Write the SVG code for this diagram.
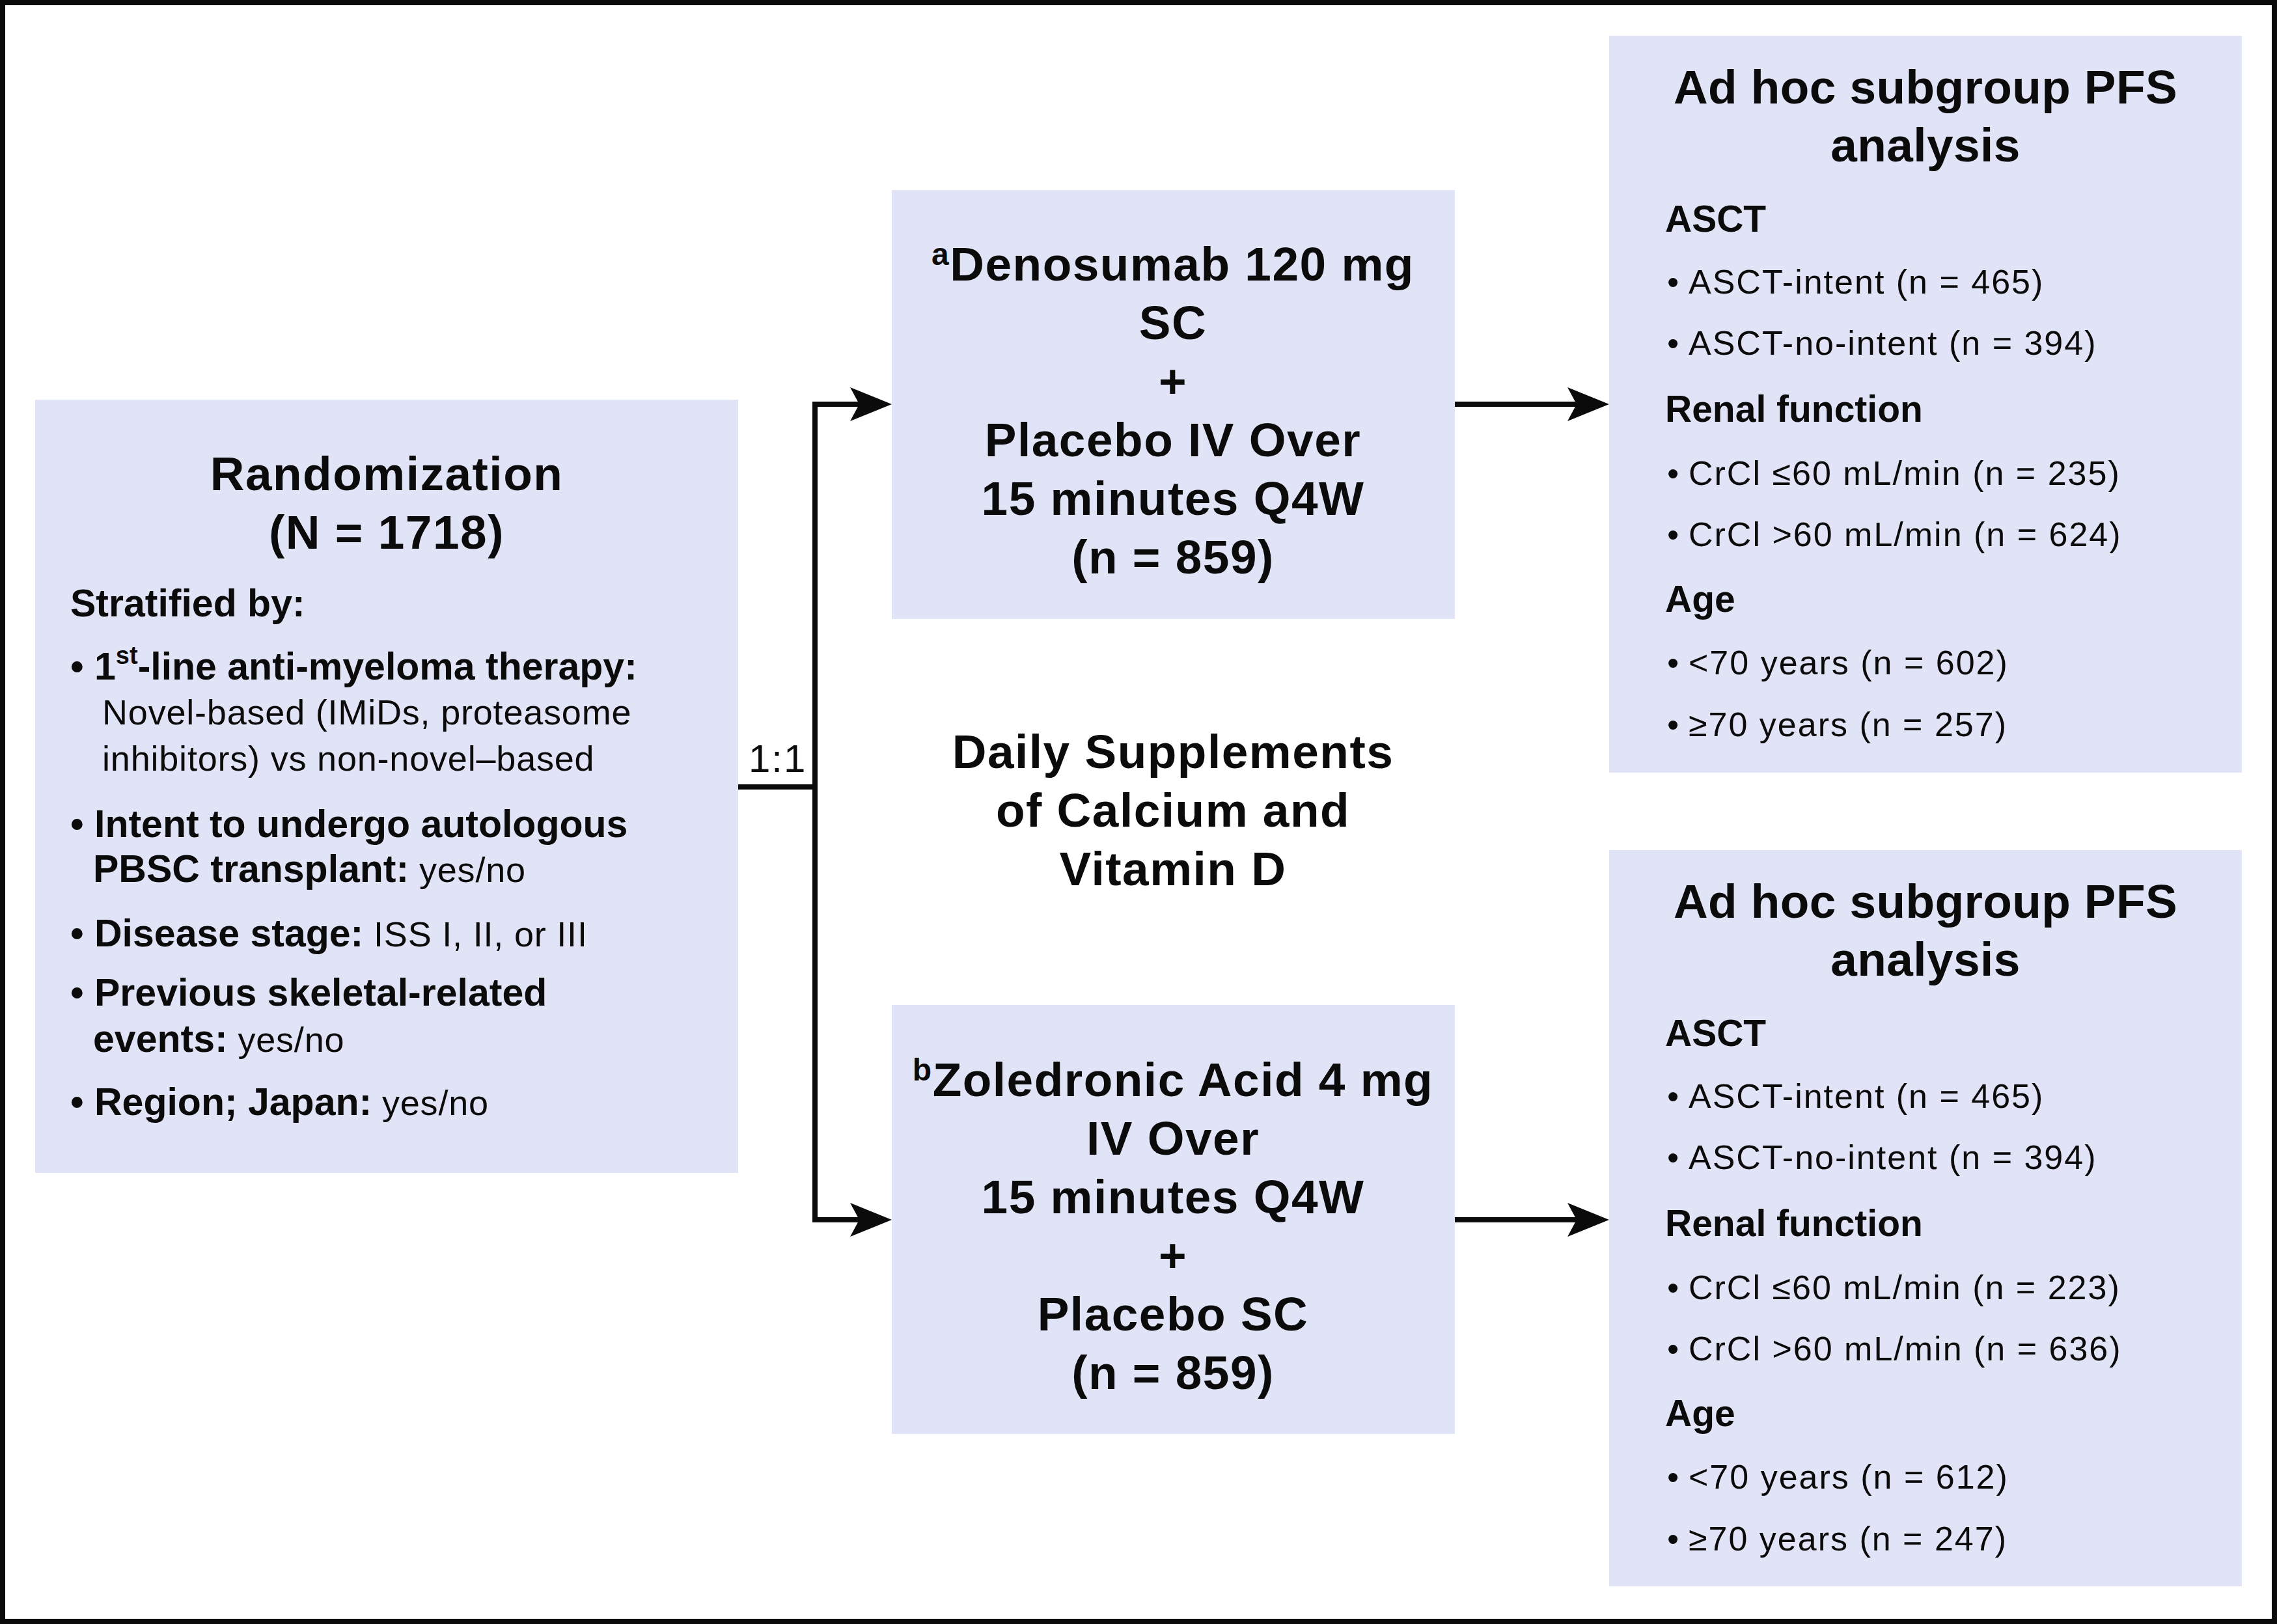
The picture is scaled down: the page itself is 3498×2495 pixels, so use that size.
<svg xmlns="http://www.w3.org/2000/svg" width="3498" height="2495" viewBox="0 0 3498 2495">
<style>
.box{fill:#E1E4F6}
text{font-family:"Liberation Sans",Arial,Helvetica,sans-serif;fill:#0b0b0b}
.title{font-weight:bold;font-size:73px;letter-spacing:1.5px;text-anchor:middle}
.rtitle{font-weight:bold;font-size:73px;letter-spacing:0.4px;text-anchor:middle}
.lb{font-weight:bold;font-size:59px}
.lr{font-weight:normal;font-size:54px;letter-spacing:0.8px}
.rb{font-weight:bold;font-size:57px}
.rr{font-weight:normal;font-size:52px;letter-spacing:2px}
.sup{font-size:38px}
.supb{font-size:48px;font-weight:bold}
.conn{stroke:#0b0b0b;stroke-width:8;fill:none;stroke-linejoin:miter}
</style>
<defs>
<marker id="ah" markerUnits="userSpaceOnUse" viewBox="0 0 64 52" markerWidth="64" markerHeight="52" refX="24" refY="26" orient="auto-start-reverse">
<path d="M0,0 L64,26 L0,52 L14,26 Z" fill="#0b0b0b"/>
</marker>
</defs>
<rect x="0" y="0" width="3498" height="2495" fill="#ffffff"/>
<rect x="4" y="4" width="3490" height="2487" fill="none" stroke="#0b0b0b" stroke-width="8"/>

<g id="randomization">
<rect class="box" x="54" y="614" width="1080" height="1188"/>
<text class="title" x="594" y="753">Randomization</text>
<text class="title" x="594" y="843">(N = 1718)</text>
<text class="lb" x="108" y="947">Stratified by:</text>
<text class="lb" x="108" y="1044">•</text>
<text class="lb" x="145" y="1044">1<tspan class="sup" dy="-24">st</tspan><tspan dy="24">-line anti-myeloma therapy:</tspan></text>
<text class="lr" x="157" y="1113">Novel-based (IMiDs, proteasome</text>
<text class="lr" x="157" y="1184">inhibitors) vs non-novel–based</text>
<text class="lb" x="108" y="1286">•</text>
<text class="lb" x="145" y="1286">Intent to undergo autologous</text>
<text class="lb" x="143" y="1355">PBSC transplant:<tspan class="lr"> yes/no</tspan></text>
<text class="lb" x="108" y="1454">•</text>
<text class="lb" x="145" y="1454">Disease stage:<tspan class="lr"> ISS I, II, or III</tspan></text>
<text class="lb" x="108" y="1545">•</text>
<text class="lb" x="145" y="1545">Previous skeletal-related</text>
<text class="lb" x="143" y="1616">events:<tspan class="lr"> yes/no</tspan></text>
<text class="lb" x="108" y="1713">•</text>
<text class="lb" x="145" y="1713">Region; Japan:<tspan class="lr"> yes/no</tspan></text>
</g>

<g id="denosumab">
<rect class="box" x="1370" y="292" width="865" height="659"/>
<text class="title" x="1802" y="431"><tspan class="supb" dy="-24">a</tspan><tspan dy="24">Denosumab 120 mg</tspan></text>
<text class="title" x="1802" y="521">SC</text>
<text class="title" x="1802" y="611">+</text>
<text class="title" x="1802" y="701">Placebo IV Over</text>
<text class="title" x="1802" y="791">15 minutes Q4W</text>
<text class="title" x="1802" y="881">(n = 859)</text>
</g>

<g id="zoledronic">
<rect class="box" x="1370" y="1544" width="865" height="659"/>
<text class="title" x="1802" y="1684"><tspan class="supb" dy="-24">b</tspan><tspan dy="24">Zoledronic Acid 4 mg</tspan></text>
<text class="title" x="1802" y="1774">IV Over</text>
<text class="title" x="1802" y="1864">15 minutes Q4W</text>
<text class="title" x="1802" y="1954">+</text>
<text class="title" x="1802" y="2044">Placebo SC</text>
<text class="title" x="1802" y="2134">(n = 859)</text>
</g>

<g id="supplements">
<text class="title" x="1802" y="1180">Daily Supplements</text>
<text class="title" x="1802" y="1270">of Calcium and</text>
<text class="title" x="1802" y="1360">Vitamin D</text>
</g>

<g id="subgroup-top">
<rect class="box" x="2472" y="55" width="972" height="1132"/>
<text class="rtitle" x="2958" y="159">Ad hoc subgroup PFS</text>
<text class="rtitle" x="2958" y="248">analysis</text>
<text class="rb" x="2558" y="356">ASCT</text>
<text class="rr" x="2561" y="451">•</text><text class="rr" x="2594" y="451">ASCT-intent (n = 465)</text>
<text class="rr" x="2561" y="545">•</text><text class="rr" x="2594" y="545">ASCT-no-intent (n = 394)</text>
<text class="rb" x="2558" y="648">Renal function</text>
<text class="rr" x="2561" y="745">•</text><text class="rr" x="2594" y="745">CrCl ≤60 mL/min (n = 235)</text>
<text class="rr" x="2561" y="839">•</text><text class="rr" x="2594" y="839">CrCl &gt;60 mL/min (n = 624)</text>
<text class="rb" x="2558" y="940">Age</text>
<text class="rr" x="2561" y="1036">•</text><text class="rr" x="2594" y="1036">&lt;70 years (n = 602)</text>
<text class="rr" x="2561" y="1131">•</text><text class="rr" x="2594" y="1131">≥70 years (n = 257)</text>
</g>

<g id="subgroup-bottom">
<rect class="box" x="2472" y="1306" width="972" height="1131"/>
<text class="rtitle" x="2958" y="1410">Ad hoc subgroup PFS</text>
<text class="rtitle" x="2958" y="1499">analysis</text>
<text class="rb" x="2558" y="1607">ASCT</text>
<text class="rr" x="2561" y="1702">•</text><text class="rr" x="2594" y="1702">ASCT-intent (n = 465)</text>
<text class="rr" x="2561" y="1796">•</text><text class="rr" x="2594" y="1796">ASCT-no-intent (n = 394)</text>
<text class="rb" x="2558" y="1899">Renal function</text>
<text class="rr" x="2561" y="1996">•</text><text class="rr" x="2594" y="1996">CrCl ≤60 mL/min (n = 223)</text>
<text class="rr" x="2561" y="2090">•</text><text class="rr" x="2594" y="2090">CrCl &gt;60 mL/min (n = 636)</text>
<text class="rb" x="2558" y="2191">Age</text>
<text class="rr" x="2561" y="2287">•</text><text class="rr" x="2594" y="2287">&lt;70 years (n = 612)</text>
<text class="rr" x="2561" y="2382">•</text><text class="rr" x="2594" y="2382">≥70 years (n = 247)</text>
</g>

<g id="connectors">
<path class="conn" d="M1134,1209 H1252"/>
<path class="conn" d="M1330,621 H1252 V1874 H1330" marker-start="url(#ah)" marker-end="url(#ah)"/>
<path class="conn" d="M2235,621 H2432" marker-end="url(#ah)"/>
<path class="conn" d="M2235,1874 H2432" marker-end="url(#ah)"/>
<text x="1150" y="1186" font-size="60" letter-spacing="2">1:1</text>
</g>
</svg>
